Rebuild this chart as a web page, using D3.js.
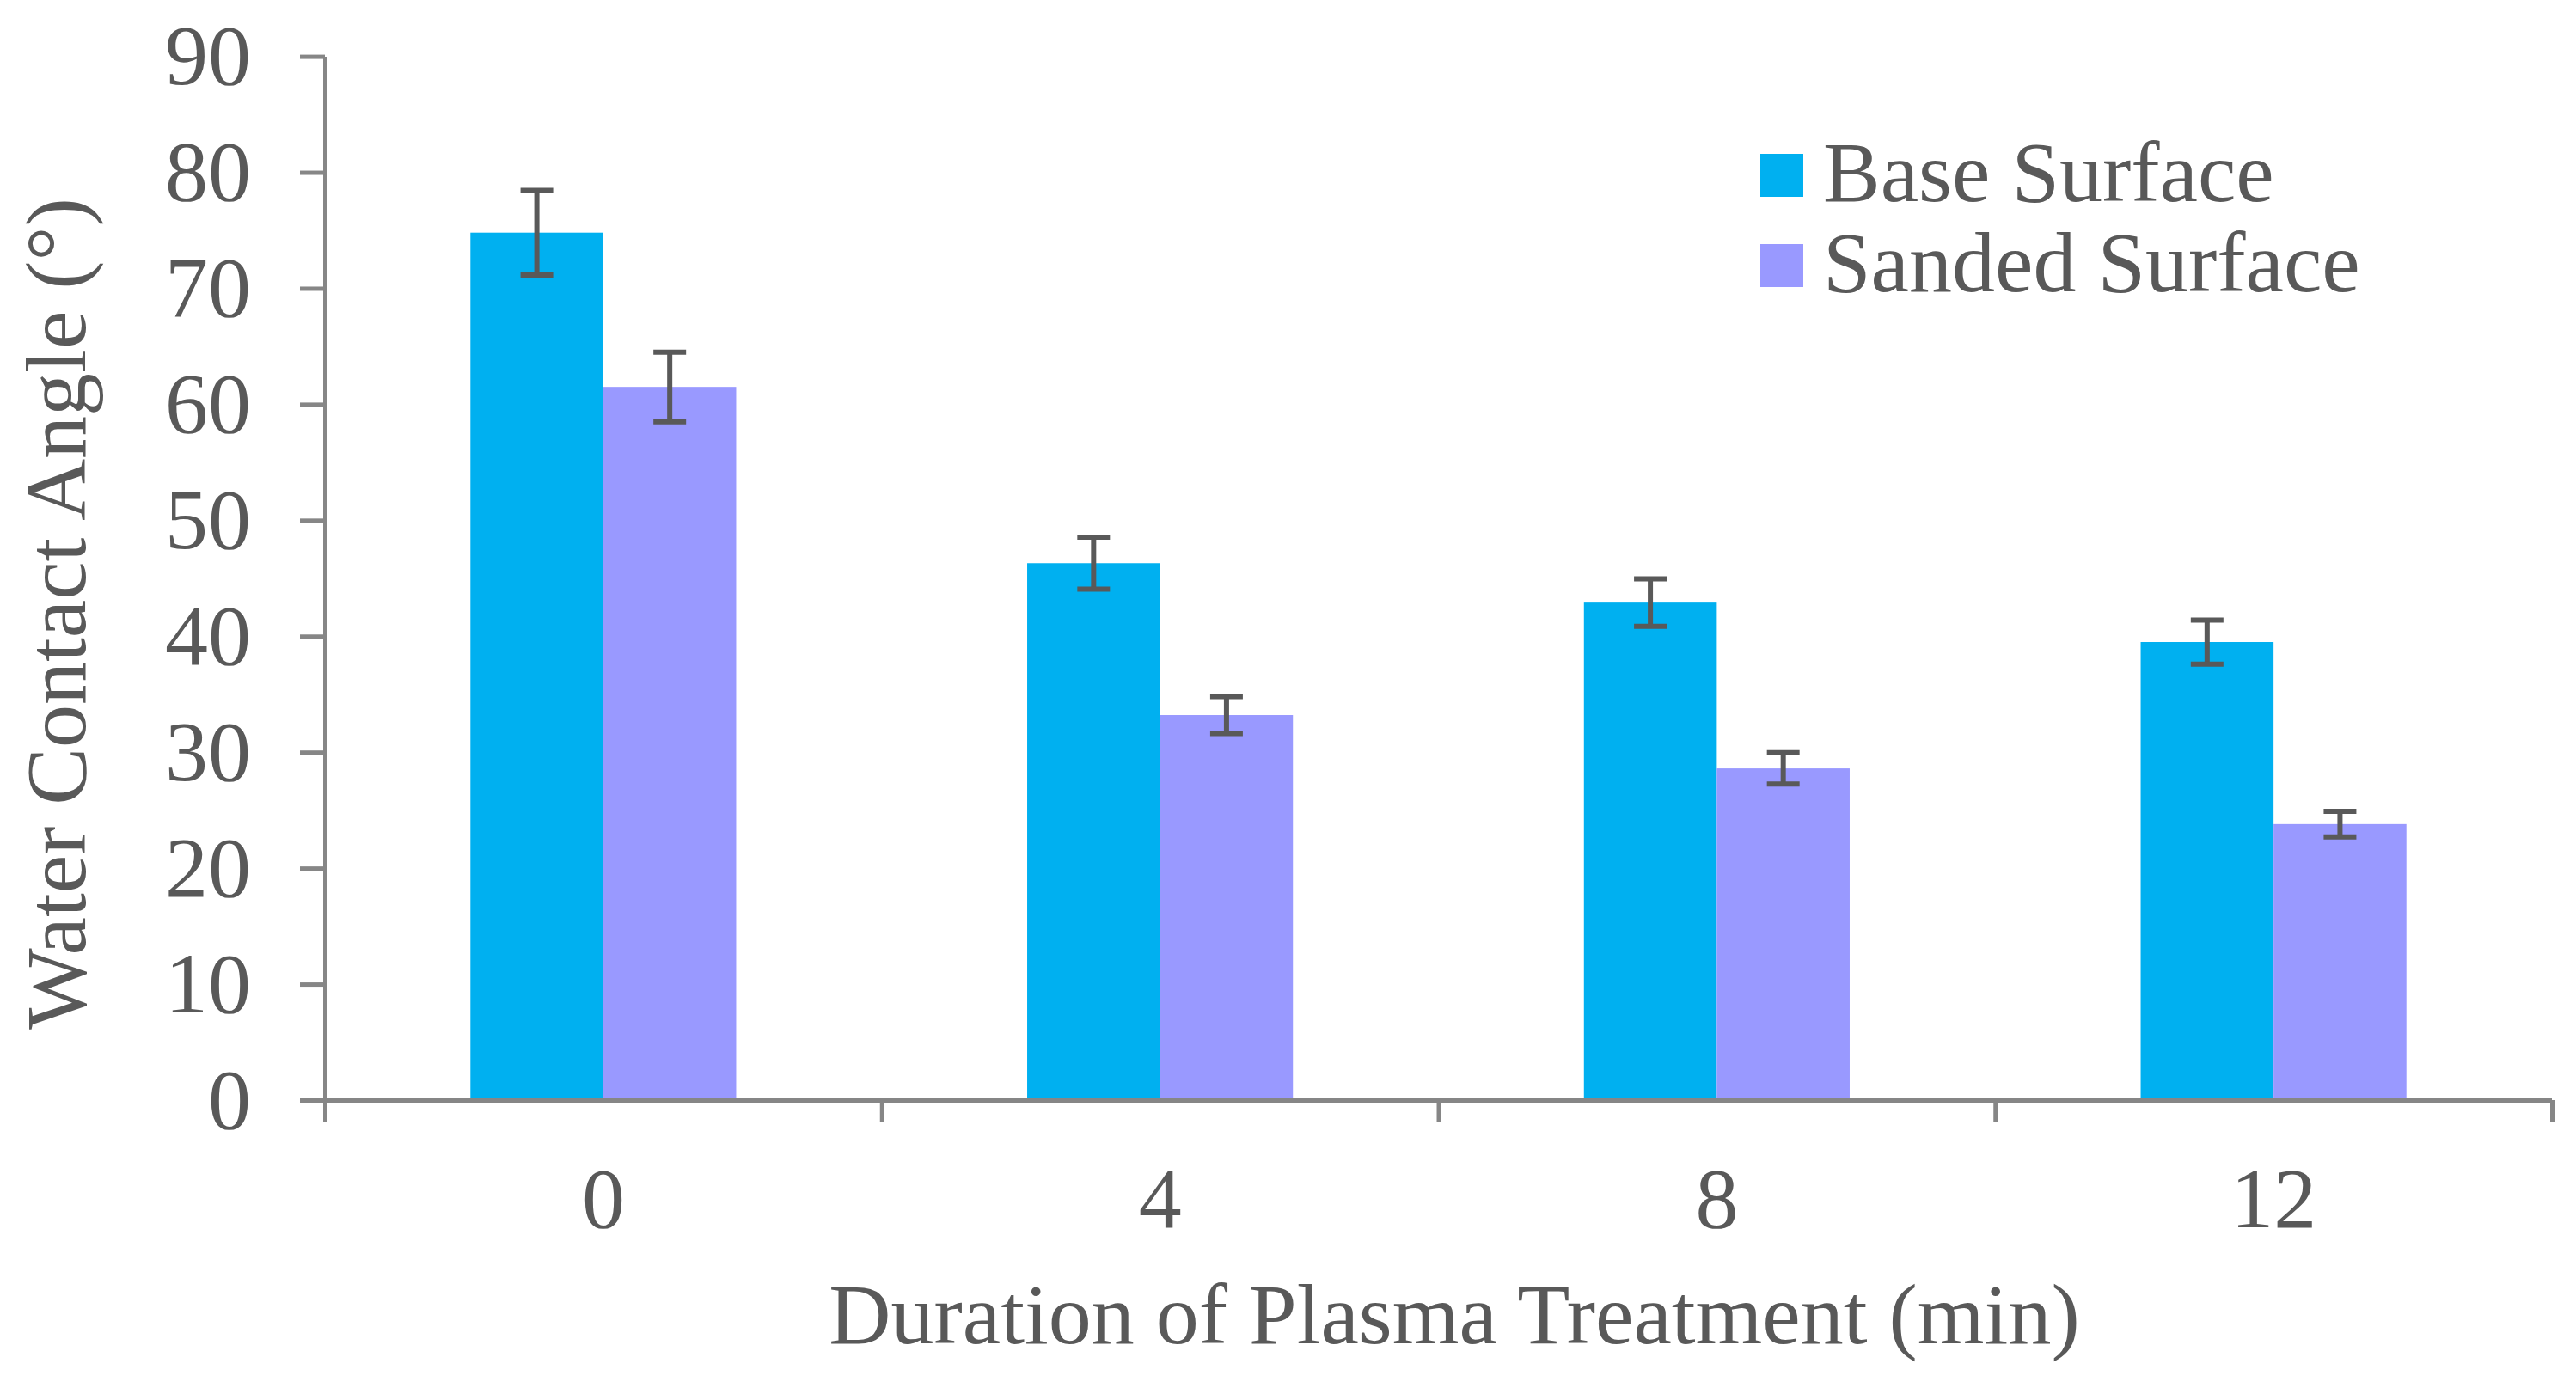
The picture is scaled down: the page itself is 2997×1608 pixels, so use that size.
<!DOCTYPE html>
<html>
<head>
<meta charset="utf-8">
<script src="https://cdn.jsdelivr.net/npm/d3@7"></script>
<style>
    body { margin: 0; background: #ffffff; }
    svg { display: block; }
    text { font-family: "Liberation Serif", "Times New Roman", serif; fill: #595959; }
</style>
</head>
<body>
<svg id="chart" width="2997" height="1608"></svg>
<script>
// Chart data
const durations = ["0", "4", "8", "12"];
const seriesNames = ["Base Surface", "Sanded Surface"];
const baseValues = [74.8, 46.3, 42.9, 39.5];
const baseErrors = [3.65, 2.25, 2.05, 1.9];
const sandedValues = [61.5, 33.2, 28.6, 23.8];
const sandedErrors = [3.0, 1.6, 1.35, 1.1];
const yTicks = [0, 10, 20, 30, 40, 50, 60, 70, 80, 90];

const xTitle = "Duration of Plasma Treatment (min)";
const yTitle = "Water Contact Angle (°)";

const colors = { "Base Surface": "#00b0f0", "Sanded Surface": "#9999ff" };
const axisColor = "#868686";
const errorColor = "#595959";

const width = 2997;
const height = 1608;
const margin = { left: 378, right: 28, top: 65.6, bottom: 328 };

const svg = d3.select("#chart")
    .attr("viewBox", `0 0 ${width} ${height}`);

// Build the long table from the named arrays
const table = durations.map((d, i) => ({
    duration: d,
    values: [
        { series: seriesNames[0], value: baseValues[i], err: baseErrors[i] },
        { series: seriesNames[1], value: sandedValues[i], err: sandedErrors[i] }
    ]
}));

const x = d3.scaleBand()
    .domain(durations)
    .range([margin.left, width - margin.right])
    .paddingInner(0)
    .paddingOuter(0);

// Excel-like gap width: bars take 2 / (2 + gap) of the category
const xInner = d3.scaleBand()
    .domain(seriesNames)
    .range([0, x.bandwidth()])
    .paddingInner(0)
    .paddingOuter(1.095);

const y = d3.scaleLinear()
    .domain([0, 90])
    .range([height - margin.bottom, margin.top]);

const baseY = y(0);

// Bars
const groups = svg.append("g")
    .attr("class", "bars")
    .selectAll("g")
    .data(table)
    .join("g")
    .attr("transform", (d) => `translate(${x(d.duration)},0)`);

groups.selectAll("rect")
    .data((d) => d.values)
    .join("rect")
    .attr("x", (d) => xInner(d.series))
    .attr("y", (d) => y(d.value))
    .attr("width", xInner.bandwidth())
    .attr("height", (d) => baseY - y(d.value))
    .attr("fill", (d) => colors[d.series]);

// Error bars
const capHalf = 19;
const errs = groups.selectAll("g.err")
    .data((d) => d.values)
    .join("g")
    .attr("class", "err")
    .attr("stroke", errorColor)
    .attr("stroke-width", 6);

errs.append("line")
    .attr("x1", (d) => xInner(d.series) + xInner.bandwidth() / 2)
    .attr("x2", (d) => xInner(d.series) + xInner.bandwidth() / 2)
    .attr("y1", (d) => y(d.value + d.err))
    .attr("y2", (d) => y(d.value - d.err));

errs.selectAll("line.cap")
    .data((d) => [d.value + d.err, d.value - d.err].map((v) => ({ v, s: d.series })))
    .join("line")
    .attr("class", "cap")
    .attr("x1", (d) => xInner(d.s) + xInner.bandwidth() / 2 - capHalf)
    .attr("x2", (d) => xInner(d.s) + xInner.bandwidth() / 2 + capHalf)
    .attr("y1", (d) => y(d.v))
    .attr("y2", (d) => y(d.v));

// Y axis
const yAxis = svg.append("g")
    .attr("transform", `translate(${margin.left},0)`)
    .call(d3.axisLeft(y).tickValues(yTicks).tickSize(29).tickSizeOuter(0).tickPadding(57));

yAxis.select(".domain").attr("stroke", axisColor).attr("stroke-width", 5);
yAxis.selectAll(".tick line").attr("stroke", axisColor).attr("stroke-width", 5);
yAxis.selectAll(".tick text")
    .attr("font-size", 100)
    .attr("font-family", null)
    .attr("fill", null);

// X axis: tick marks at category boundaries, labels at category centres
const xEdges = d3.scaleLinear()
    .domain([0, durations.length])
    .range(x.range());

const xTicks = svg.append("g")
    .attr("transform", `translate(0,${baseY})`)
    .call(d3.axisBottom(xEdges).tickValues(d3.range(durations.length + 1)).tickFormat("").tickSize(25).tickSizeOuter(0));

xTicks.select(".domain").remove();
xTicks.selectAll(".tick line").attr("stroke", axisColor).attr("stroke-width", 5);

const xLabels = svg.append("g")
    .attr("transform", `translate(0,${baseY})`)
    .call(d3.axisBottom(x).tickSize(0));

xLabels.select(".domain").remove();
xLabels.selectAll(".tick text")
    .attr("y", 148)
    .attr("dy", null)
    .attr("font-size", 100)
    .attr("font-family", null)
    .attr("fill", null);

// X axis line drawn last so it sits over the bar bottoms
svg.append("line")
    .attr("x1", margin.left - 29)
    .attr("x2", width - margin.right)
    .attr("y1", baseY)
    .attr("y2", baseY)
    .attr("stroke", axisColor)
    .attr("stroke-width", 6);

// Axis titles
svg.append("text")
    .attr("x", 1692)
    .attr("y", 1563)
    .attr("text-anchor", "middle")
    .attr("font-size", 100)
    .text(xTitle);

svg.append("text")
    .attr("transform", "translate(99,714) rotate(-90)")
    .attr("text-anchor", "middle")
    .attr("font-size", 100)
    .text(yTitle);

// Legend
const legend = svg.append("g")
    .attr("transform", "translate(2048,179)")
    .selectAll("g")
    .data(seriesNames)
    .join("g")
    .attr("transform", (d, i) => `translate(0,${i * 105})`);

legend.append("rect")
    .attr("width", 50)
    .attr("height", 50)
    .attr("fill", (d) => colors[d]);

legend.append("text")
    .attr("x", 73)
    .attr("y", 55)
    .attr("font-size", 100)
    .text((d) => d);
</script>
</body>
</html>
